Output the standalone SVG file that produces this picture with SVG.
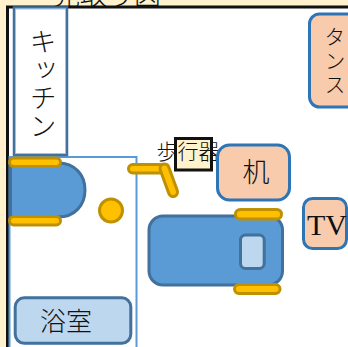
<svg xmlns="http://www.w3.org/2000/svg" width="348" height="347" viewBox="0 0 348 347">
<style>
text{font-family:"Noto Sans CJK JP","Liberation Serif",sans-serif;font-weight:300;fill:#111;text-anchor:middle}
.v{writing-mode:vertical-rl}
.y{fill:#ffc000;stroke:#bf9000;stroke-width:3}
.b{fill:#5b9bd5;stroke:#41719c;stroke-width:3}
.o{fill:#f8cbad;stroke:#2e75b6;stroke-width:3}
.l{fill:#bdd7ee;stroke:#41719c;stroke-width:3}
</style>
<rect width="348" height="347" fill="#fff2cc"/>
<g id="title"><text x="107" y="5" font-size="27">見取り図</text></g>
<rect x="7.500" y="7" width="342" height="342" fill="#fff" stroke="#111" stroke-width="3"/>
<g id="bath-room"><rect x="9.500" y="157" width="127" height="192" fill="#fff" stroke="#5b9bd5" stroke-width="2"/></g>
<g id="kitchen"><rect x="14" y="7.500" width="53" height="147.500" fill="#fff" stroke="#41719c" stroke-width="2.500"/><rect x="15.500" y="9" width="50" height="144.500" fill="none" stroke="#9dc3e6" stroke-width="1"/>
<text class="v" x="43" y="84" font-size="27" letter-spacing="1">キッチン</text></g>
<g id="tansu"><rect x="309.500" y="14" width="50" height="93" rx="10" class="o"/><text class="v" x="335" y="62" font-size="21" letter-spacing="3">タンス</text></g>
<g id="bed-left"><path d="M10.500 163H58C75 163 85 175 85 190C85 205 75 217 58 217H10.500Z" class="b"/><rect x="9.500" y="158" width="51" height="8.500" rx="4.200" class="y"/><rect x="9.500" y="216.500" width="51" height="8.500" rx="4.200" class="y"/></g>
<g id="ball"><circle cx="111" cy="210.500" r="11.500" class="y"/></g>
<g id="walker-arm"><rect x="128.500" y="164.500" width="36" height="8.500" rx="4.200" class="y"/><rect x="160" y="164" width="9" height="34" rx="4.500" class="y" transform="rotate(-20 164.500 168.500)"/></g>
<g id="walker"><rect x="175.500" y="138.500" width="36" height="31.500" fill="#fff2cc" stroke="#111" stroke-width="3"/><text x="188" y="159" font-size="21">歩行器</text></g>
<g id="desk"><rect x="217.500" y="145" width="72" height="55" rx="12" class="o"/><text x="256" y="182" font-size="27">机</text></g>
<g id="tv"><rect x="303.500" y="198.500" width="43" height="50" rx="9" class="o"/><text x="327" y="235" font-size="30" style="font-family:'Liberation Serif',serif;font-weight:400">TV</text></g>
<g id="bed-right"><rect x="149" y="216" width="133.500" height="69" rx="14" class="b"/><rect x="240.500" y="235" width="23.700" height="33.500" rx="5" class="l"/><rect x="235.500" y="209.500" width="46" height="9.500" rx="4.700" class="y"/><rect x="234.500" y="284.500" width="45.500" height="9" rx="4.500" class="y"/></g>
<g id="bath"><rect x="15.200" y="297.800" width="115.600" height="45.500" rx="9" class="l"/><text x="66" y="331" font-size="26">浴室</text></g>
</svg>
